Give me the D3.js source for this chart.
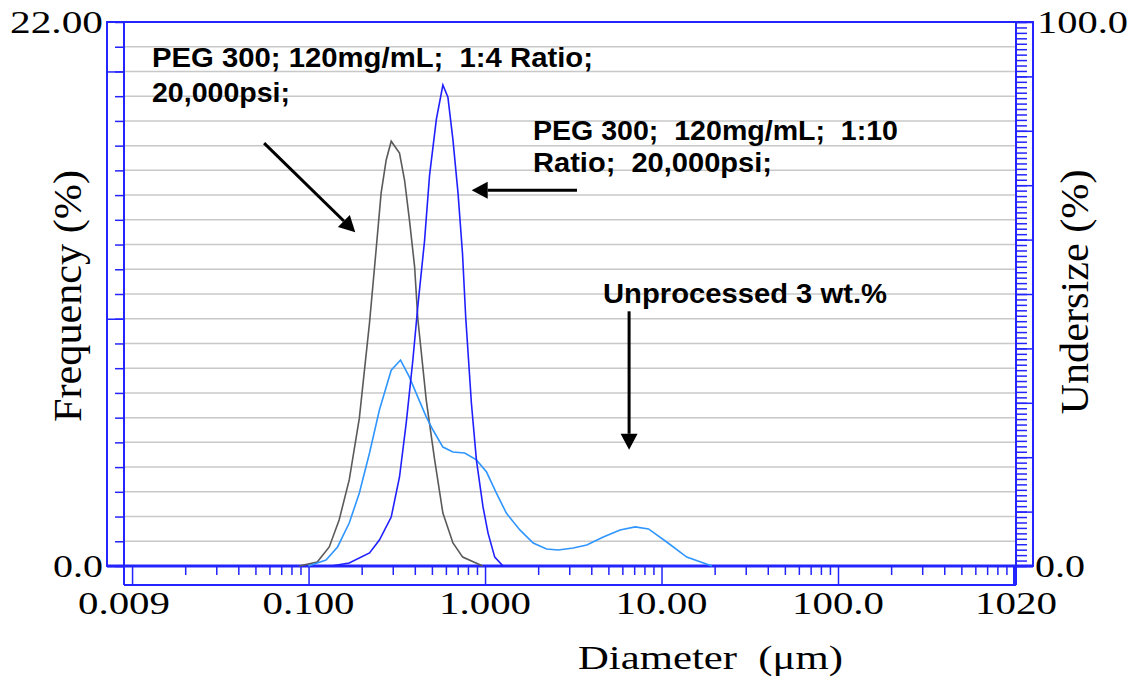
<!DOCTYPE html>
<html>
<head>
<meta charset="utf-8">
<script src="https://cdn.jsdelivr.net/npm/d3@7"></script>
<style>
body { margin: 0; background: #fff; }
text { white-space: pre; }
</style>
</head>
<body>
<script>
var width = 1136, height = 681
var blue = "#2424ff"

// diameter (um) and frequency (%)
// PEG 300, 1:4 ratio (grey)
var dia14  = [0.0886, 0.112, 0.131, 0.149, 0.170, 0.194, 0.2215, 0.2415, 0.2577, 0.2754, 0.294, 0.3276, 0.350, 0.373, 0.399, 0.416, 0.4645, 0.518, 0.577, 0.658, 0.747, 0.97]
var freq14 = [0, 0.16, 0.77, 1.86, 3.48, 5.98, 9.83, 12.8, 15.08, 16.42, 17.18, 16.7, 15.6, 13.99, 12.1, 10.0, 6.7, 4.3, 2.14, 0.93, 0.36, 0]
// PEG 300, 1:10 ratio (blue)
var dia110  = [0.134, 0.170, 0.2215, 0.252, 0.294, 0.3276, 0.3575, 0.390, 0.416, 0.454, 0.485, 0.530, 0.577, 0.616, 0.658, 0.703, 0.745, 0.777, 0.837, 0.894, 0.974, 1.04, 1.135, 1.265]
var freq110 = [0, 0.12, 0.53, 1.05, 1.98, 3.6, 5.78, 8.33, 10.5, 13.14, 15.81, 18.07, 19.45, 18.96, 17.23, 15.08, 12.66, 10.07, 6.58, 4.27, 2.39, 1.33, 0.36, 0]
// unprocessed 3 wt.% (light blue)
var diaRaw  = [0.0997, 0.1256, 0.146, 0.170, 0.194, 0.2215, 0.252, 0.294, 0.332, 0.373, 0.416, 0.4645, 0.507, 0.577, 0.658, 0.767, 0.894, 1.02, 1.16, 1.32, 1.575, 1.875, 2.23, 2.60, 3.16, 3.77, 4.68, 5.82, 7.09, 8.44, 10.7, 13.9, 19.3]
var freqRaw = [0, 0.24, 0.77, 1.74, 2.95, 4.57, 6.31, 7.92, 8.33, 7.64, 6.83, 6.03, 5.5, 4.81, 4.61, 4.57, 4.29, 3.8, 2.95, 2.14, 1.46, 0.93, 0.69, 0.65, 0.73, 0.85, 1.17, 1.46, 1.58, 1.50, 0.97, 0.36, 0]

var xLabelVals = [0.009, 0.1, 1, 10, 100, 1020]
var xLabels = ["0.009", "0.100", "1.000", "10.00", "100.0", "1020"]
var xMajor = [0.01, 0.1, 1, 10, 100, 1000]

// annotation arrows, [from, to] in (diameter, frequency)
var arrows = [
    [[0.056, 17.1], [0.184, 13.5]],
    [[3.32, 15.2], [0.84, 15.2]],
    [[6.55, 10.3], [6.55, 4.7]]
]

var svg = d3.select("body").append("svg")
    .attr("width", width)
    .attr("height", height)

var x = d3.scaleLog().domain([0.009, 1020]).range([124, 1016])
var y = d3.scaleLinear().domain([0, 22]).range([566, 22])
var yR = d3.scaleLinear().domain([0, 100]).range([566, 22])

// grid
svg.append("g").selectAll("line")
    .data(d3.range(1, 22))
    .join("line")
    .attr("x1", 124).attr("x2", 1016)
    .attr("y1", d => y(d)).attr("y2", d => y(d))
    .attr("stroke", "#c8c8c8")
    .attr("stroke-width", 1.5)

// minor ticks on the log axis
var xMinor = []
xMajor.forEach(function (m) {
    for (var k = 2; k < 10; k++) if (k * m < 1020) xMinor.push(k * m)
})

function addAxis(axis, tr) {
    var g = svg.append("g").attr("transform", tr).call(axis)
    g.select(".domain").remove()
    g.selectAll(".tick line").attr("stroke", blue).attr("stroke-width", 1.5)
    g.selectAll(".tick text").remove()
    return g
}

addAxis(d3.axisLeft(y).tickValues(d3.range(0, 23)).tickSize(9).tickFormat(""), "translate(124,0)")
addAxis(d3.axisLeft(y).tickValues([0, 10, 20]).tickSize(17).tickFormat(""), "translate(124,0)")
addAxis(d3.axisRight(yR).tickValues(d3.range(0, 101)).tickSize(11).tickFormat(""), "translate(1016,0)")
addAxis(d3.axisRight(yR).tickValues(d3.range(0, 101, 10)).tickSize(17).tickFormat(""), "translate(1016,0)")
addAxis(d3.axisBottom(x).tickValues(xMinor).tickSize(9).tickFormat(""), "translate(0,566)")
addAxis(d3.axisBottom(x).tickValues(xMajor).tickSize(19).tickFormat(""), "translate(0,566)")

// frame
var frame = svg.append("g").attr("stroke", blue).attr("stroke-width", 2).attr("fill", "none")
frame.append("rect").attr("x", 107).attr("y", 22).attr("width", 1033 - 107).attr("height", 566 - 22)
frame.append("line").attr("x1", 124).attr("x2", 124).attr("y1", 22).attr("y2", 585)
frame.append("line").attr("x1", 1016).attr("x2", 1016).attr("y1", 22).attr("y2", 585)
frame.append("line").attr("x1", 124).attr("x2", 1016).attr("y1", 585).attr("y2", 585)
frame.append("line").attr("x1", 107).attr("x2", 1033).attr("y1", 566).attr("y2", 566).attr("stroke-width", 3)
frame.append("line").attr("x1", 1014.5).attr("x2", 1014.5).attr("y1", 566).attr("y2", 585).attr("stroke-width", 3)

// curves
var line = d3.line().x(d => x(d[0])).y(d => y(d[1]))
var series = [
    { d: dia14, f: freq14, c: "#5a5a5a" },
    { d: diaRaw, f: freqRaw, c: "#2f96ff" },
    { d: dia110, f: freq110, c: "#2020ff" }
]
series.forEach(function (s) {
    svg.append("path")
        .datum(d3.zip(s.d, s.f))
        .attr("d", line)
        .attr("fill", "none")
        .attr("stroke", s.c)
        .attr("stroke-width", 1.6)
})

// serif labels
var serif = "'Liberation Serif', 'DejaVu Serif', serif"
function slabel(t, px, py, anchor, len) {
    svg.append("text")
        .attr("x", px).attr("y", py)
        .attr("text-anchor", anchor)
        .attr("font-family", serif)
        .attr("font-size", 32)
        .attr("textLength", len)
        .attr("lengthAdjust", "spacingAndGlyphs")
        .text(t)
}
slabel("22.00", 103, 33, "end", 93)
slabel("0.0", 103, 577, "end", 50)
slabel("100.0", 1037, 33, "start", 91)
slabel("0.0", 1035, 577, "start", 50)
xLabelVals.forEach(function (v, i) {
    slabel(xLabels[i], x(v), 614, "middle", xLabels[i].length == 4 ? 82 : 92)
})

svg.append("text")
    .attr("x", 578).attr("y", 669)
    .attr("font-family", serif).attr("font-size", 33)
    .attr("textLength", 265).attr("lengthAdjust", "spacingAndGlyphs")
    .text("Diameter  (μm)")

svg.append("text")
    .attr("transform", "translate(81,296) scale(1.35,1) rotate(-90)")
    .attr("text-anchor", "middle")
    .attr("font-family", serif).attr("font-size", 30)
    .attr("textLength", 252).attr("lengthAdjust", "spacingAndGlyphs")
    .text("Frequency (%)")

svg.append("text")
    .attr("transform", "translate(1088,292) scale(1.35,1) rotate(-90)")
    .attr("text-anchor", "middle")
    .attr("font-family", serif).attr("font-size", 30)
    .attr("textLength", 245).attr("lengthAdjust", "spacingAndGlyphs")
    .text("Undersize (%)")

// annotations
var notes = [
    ["PEG 300; 120mg/mL;  1:4 Ratio;", 152, 67, 441],
    ["20,000psi;", 152, 102, 138],
    ["PEG 300;  120mg/mL;  1:10", 533, 140, 365],
    ["Ratio;  20,000psi;", 533, 172, 239],
    ["Unprocessed 3 wt.%", 603, 303, 284]
]
notes.forEach(function (n) {
    svg.append("text")
        .attr("x", n[1]).attr("y", n[2])
        .attr("font-family", "'Liberation Sans', Arial, sans-serif")
        .attr("font-weight", "bold")
        .attr("font-size", 27.5)
        .attr("textLength", n[3])
        .attr("lengthAdjust", "spacingAndGlyphs")
        .text(n[0])
})

arrows.forEach(function (a) {
    var x0 = x(a[0][0]), y0 = y(a[0][1]), x1 = x(a[1][0]), y1 = y(a[1][1])
    var ang = Math.atan2(y1 - y0, x1 - x0)
    var hl = 16, hw = 8.5
    var bx = x1 - hl * Math.cos(ang), by = y1 - hl * Math.sin(ang)
    svg.append("line")
        .attr("x1", x0).attr("y1", y0).attr("x2", bx).attr("y2", by)
        .attr("stroke", "#000").attr("stroke-width", 3)
    svg.append("path")
        .attr("d", "M" + x1 + "," + y1 +
            "L" + (bx + hw * Math.sin(ang)) + "," + (by - hw * Math.cos(ang)) +
            "L" + (bx - hw * Math.sin(ang)) + "," + (by + hw * Math.cos(ang)) + "Z")
        .attr("fill", "#000")
})
</script>
</body>
</html>
